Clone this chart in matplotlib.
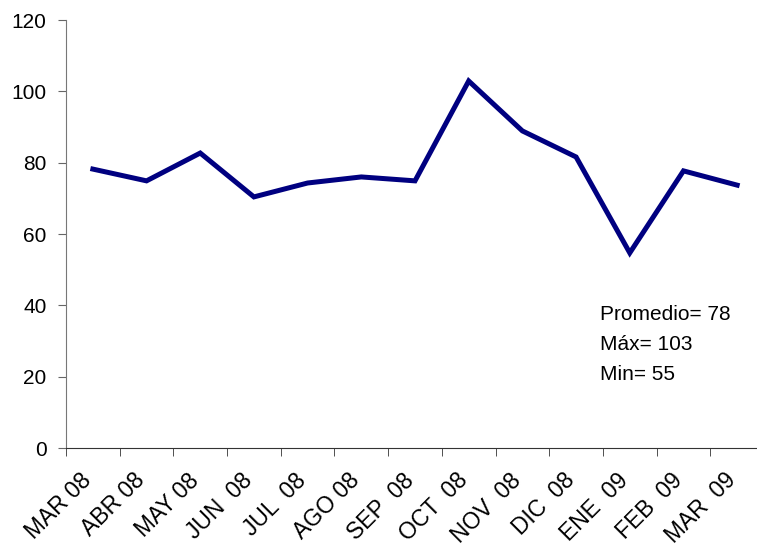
import matplotlib.pyplot as plt
from matplotlib.ticker import FixedLocator
from matplotlib.transforms import ScaledTranslation

plt.rcParams['font.family'] = ['Liberation Sans', 'DejaVu Sans']

# datos
meses = ['MAR 08', 'ABR 08', 'MAY 08', 'JUN  08', 'JUL  08', 'AGO 08', 'SEP  08',
         'OCT  08', 'NOV  08', 'DIC  08', 'ENE  09', 'FEB  09', 'MAR  09']
valores = [78.2, 74.9, 82.7, 70.4, 74.3, 76.0, 74.9, 102.9, 88.9, 81.6, 54.7, 77.7, 73.7]
resumen = ['Promedio= 78', 'Máx= 103', 'Min= 55']

fig = plt.figure(figsize=(7.57, 5.52), dpi=100)
ax = fig.add_axes([66 / 757, 104 / 552, 698 / 757, 428 / 552])

x = list(range(len(meses)))
ax.plot(x, valores, color='#000080', linewidth=3.6, solid_joinstyle='miter')

ax.set_xlim(-0.5, len(meses) - 0.5)
ax.set_ylim(0, 120)
ax.set_yticks(range(0, 121, 20))

# etiquetas en el centro, marcas entre categorias
ax.set_xticks(x)
ax.set_xticklabels(meses, rotation=45, ha='right', va='top', rotation_mode='anchor')
ax.xaxis.set_minor_locator(FixedLocator([i - 0.5 for i in range(len(meses) + 1)]))
ax.tick_params(axis='x', which='major', length=0, pad=15, labelsize=16.5)
ax.tick_params(axis='x', which='minor', length=6, direction='out', color='#333333')
ax.tick_params(axis='y', length=6, direction='out', pad=8, labelsize=15, color='#666666')

desplazamiento = ScaledTranslation(-13 / 100, 0, fig.dpi_scale_trans)
for lbl in ax.get_xticklabels():
    lbl.set_transform(lbl.get_transform() + desplazamiento)

ax.spines['top'].set_visible(False)
ax.spines['right'].set_visible(False)
ax.spines['left'].set_color('#777777')
ax.spines['bottom'].set_color('#333333')

for i, txt in enumerate(resumen):
    ax.text(600 / 757, 1 - (314 + i * 30) / 552, txt, transform=fig.transFigure,
            fontsize=15, ha='left', va='center')

fig.savefig('out.png', dpi=100)
